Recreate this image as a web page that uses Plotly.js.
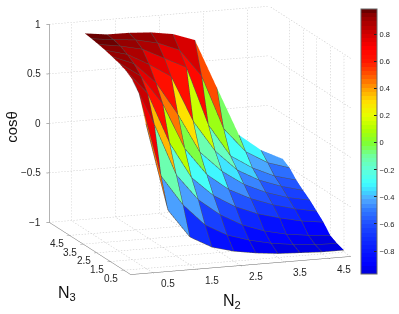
<!DOCTYPE html><html><head><script src="https://cdn.plot.ly/plotly-3.0.1.min.js"></script></head><body style="margin:0;background:#fff"><div id="g" style="width:399px;height:314px"></div><script>
var n2=[0.5,1,1.5,2,2.5,3,3.5,4,4.5,5];
var n3=[0.5,1,1.5,2,2.5,3,3.5,4,4.5,5];
var row05=[0.46,-0.43,-0.72,-0.84,-0.90,-0.936,-0.96,-0.97,-0.98,-0.98];
var row10=[0.72,-0.13,-0.44,-0.66,-0.78,-0.85,-0.90,-0.93,-0.95,-0.956];
var row15=[0.82,0.35,-0.18,-0.45,-0.62,-0.74,-0.82,-0.87,-0.90,-0.92];
var row20=[0.87,0.62,0.10,-0.27,-0.47,-0.60,-0.69,-0.75,-0.80,-0.83];
var row25=[0.90,0.75,0.45,-0.02,-0.30,-0.47,-0.58,-0.66,-0.72,-0.763];
var row30=[0.92,0.83,0.62,0.28,-0.12,-0.33,-0.48,-0.58,-0.65,-0.695];
var row35=[0.94,0.88,0.76,0.62,0.15,-0.17,-0.38,-0.50,-0.58,-0.64];
var row40=[0.955,0.92,0.87,0.76,0.65,0.05,-0.28,-0.42,-0.52,-0.58];
var row45=[0.968,0.94,0.92,0.87,0.78,0.50,-0.05,-0.30,-0.43,-0.50];
var row50=[0.978,0.949,0.947,0.933,0.898,0.819,0.32,-0.175,-0.346,-0.455];
var rows=[row05,row10,row15,row20,row25,row30,row35,row40,row45,row50];
var n2Ticks=[0.5,1.5,2.5,3.5,4.5], n3Ticks=[0.5,1.5,2.5,3.5,4.5], zTicks=[-1,-0.5,0,0.5,1];
var n2Labels=['0.5','1.5','2.5','3.5','4.5'], n3Labels=['0.5','1.5','2.5','3.5','4.5'], zLabels=['\u22121','\u22120.5','0','0.5','1'];
var n2Max=5,n3Max=6,zMin=-1,zMax=1;
var cMin=-0.97,cMax=0.99,barTicks=[-0.8,-0.6,-0.4,-0.2,0,0.2,0.4,0.6,0.8];
var mapValues=[-0.97,-0.9,-0.8,-0.7,-0.6,-0.5,-0.42,-0.37,-0.3,-0.2,-0.1,0,0.1,0.2,0.3,0.4,0.5,0.6,0.7,0.8,0.9,0.96,0.99];
var mapColors=[[0,0,216],[0,0,255],[8,24,255],[16,48,255],[32,80,255],[48,120,255],[80,168,255],[64,208,255],[64,255,255],[96,255,216],[112,255,160],[128,255,48],[176,255,0],[230,255,0],[255,224,0],[255,160,0],[255,85,0],[255,24,0],[255,0,0],[212,0,0],[165,0,0],[130,0,0],[80,0,0]];

function mapColor(v){var i=0;while(i<mapValues.length-2&&v>mapValues[i+1])i++;
 var f=(v-mapValues[i])/(mapValues[i+1]-mapValues[i]);
 return 'rgb('+[0,1,2].map(function(c){return Math.round(mapColors[i][c]+(mapColors[i+1][c]-mapColors[i][c])*f)}).join(',')+')';}
var scale=[];for(var q=0;q<64;q++){var col=mapColor(cMin+(cMax-cMin)*(q+0.5)/64);scale.push([q/64,col]);scale.push([(q+1)/64,col]);}

var X=[],Y=[],Z=[],I=[],J=[],K=[],F=[];
rows.forEach(function(r,b){r.forEach(function(v,a){X.push(n2[a]);Y.push(n3[b]);Z.push(v);});});
for(var b=0;b<9;b++)for(var a=0;a<9;a++){var p=b*10+a;
 I.push(p,p);J.push(p+1,p+11);K.push(p+11,p+10);F.push(rows[b][a],rows[b][a]);}
var mesh={type:'mesh3d',x:X,y:Y,z:Z,i:I,j:J,k:K,intensity:F,intensitymode:'cell',colorscale:scale,cmin:cMin,cmax:cMax,flatshading:true,
 lighting:{ambient:1,diffuse:0,specular:0,roughness:1,fresnel:0},hoverinfo:'skip',
 colorbar:{thickness:16,thicknessmode:'pixels',len:265,lenmode:'pixels',x:367/399,xanchor:'left',xref:'paper',y:(314-274)/314,yanchor:'bottom',yref:'paper',
  tickvals:barTicks,ticks:'inside',ticklen:3,tickcolor:'#222',tickfont:{family:'Liberation Sans',size:7.5,color:'#222'},outlinecolor:'#666',outlinewidth:1,borderwidth:0,xpad:0,ypad:0}};
var wire={type:'surface',x:n2,y:n3,z:rows,hidesurface:true,showscale:false,hoverinfo:'skip',
 contours:{x:{show:true,start:0.5,end:5,size:0.5,color:'#505050',width:1.5,highlight:false},y:{show:true,start:0.5,end:5,size:0.5,color:'#505050',width:1.5,highlight:false},z:{show:false,highlight:false}}};
var gx=[],gy=[],gz=[];
function seg(a,b,n){for(var s=0;s<n;s++){var f0=s/n,f1=(s+0.45)/n;
 gx.push(a[0]+(b[0]-a[0])*f0,a[0]+(b[0]-a[0])*f1,null);gy.push(a[1]+(b[1]-a[1])*f0,a[1]+(b[1]-a[1])*f1,null);gz.push(a[2]+(b[2]-a[2])*f0,a[2]+(b[2]-a[2])*f1,null);}}
n2Ticks.forEach(function(u){seg([u,n3Max,zMin],[u,n3Max,zMax],66);seg([u,0,zMin],[u,n3Max,zMin],32);});
n3Ticks.forEach(function(v){seg([n2Max,v,zMin],[n2Max,v,zMax],66);seg([0,v,zMin],[n2Max,v,zMin],73);});
zTicks.forEach(function(w){seg([0,n3Max,w],[n2Max,n3Max,w],73);seg([n2Max,0,w],[n2Max,n3Max,w],32);});
var grid={type:'scatter3d',mode:'lines',x:gx,y:gy,z:gz,line:{color:'#c4c4c4',width:1},hoverinfo:'skip',showlegend:false};
var tf={family:'Liberation Sans',size:10,color:'#262626'};
var ann=[];
zTicks.forEach(function(w,i){ann.push({x:0,y:n3Max,z:w,text:zLabels[i],showarrow:false,xanchor:'right',yanchor:'middle',xshift:-6,yshift:0,font:tf});});
n2Ticks.forEach(function(u,i){ann.push({x:u,y:0,z:zMin,text:n2Labels[i],showarrow:false,xanchor:'center',yanchor:'middle',xshift:15,yshift:-11,font:tf});});
n3Ticks.forEach(function(v,i){ann.push({x:0,y:v,z:zMin,text:n3Labels[i],showarrow:false,xanchor:'center',yanchor:'middle',xshift:-13,yshift:-8,font:tf});});
var ax={showgrid:false,zeroline:false,showbackground:false,showspikes:false,showticklabels:false,showline:true,linecolor:'#666',linewidth:1,ticks:'outside',ticklen:3,tickcolor:'#666',tickmode:'array',title:{text:''}};
var d=1.543, cx=-0.021, cy=0.0074, cz=-0.1087;
var layout={width:399,height:314,margin:{l:0,r:0,t:0,b:0},paper_bgcolor:'#fff',showlegend:false,
 scene:{domain:{x:[0,1],y:[0,1]},aspectmode:'manual',aspectratio:{x:1.489,y:1.538,z:1.296},
  camera:{projection:{type:'orthographic'},up:{x:0,y:0,z:1},center:{x:cx,y:cy,z:cz},eye:{x:-0.328*d+cx,y:-0.916*d+cy,z:0.2296*d+cz}},
  xaxis:Object.assign({},ax,{range:[0,n2Max],tickvals:n2Ticks}),
  yaxis:Object.assign({},ax,{range:[0,n3Max],tickvals:n3Ticks}),
  zaxis:Object.assign({},ax,{range:[zMin,zMax],tickvals:zTicks}),
  annotations:ann},
 annotations:[
  {xref:'paper',yref:'paper',x:11/399,y:1-127/314,xanchor:'center',yanchor:'middle',text:'cos\u03b8',textangle:-90,showarrow:false,font:{family:'Liberation Sans',size:15,color:'#111'}},
  {xref:'paper',yref:'paper',x:68/399,y:1-293/314,xanchor:'center',yanchor:'middle',text:'N<sub>3</sub>',showarrow:false,font:{family:'Liberation Sans',size:16,color:'#111'}},
  {xref:'paper',yref:'paper',x:236/399,y:1-301/314,xanchor:'center',yanchor:'middle',text:'N<sub>2</sub>',showarrow:false,font:{family:'Liberation Sans',size:16,color:'#111'}}]};
Plotly.newPlot('g',[mesh,grid,wire],layout,{displayModeBar:false});
</script></body></html>
